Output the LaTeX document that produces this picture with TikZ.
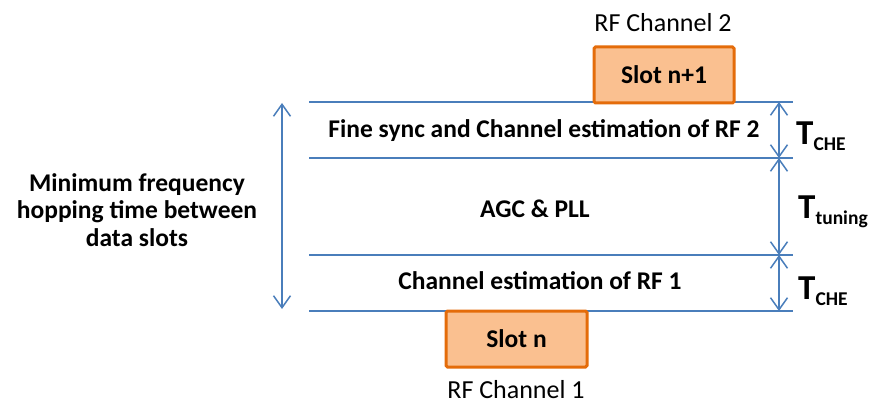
\documentclass[tikz,border=0pt]{standalone}
\usepackage{fontspec}
\setmainfont{Carlito}
\usetikzlibrary{arrows.meta}
\definecolor{lineblue}{HTML}{4A7EBB}
\definecolor{slotfill}{HTML}{FAC090}
\definecolor{slotdraw}{HTML}{E46C0A}
\tikzset{
  hline/.style={lineblue, line width=1.5pt},
  dimarrow/.style={lineblue, line width=1.5pt, {Straight Barb[length=12pt,width=17pt]}-{Straight Barb[length=12pt,width=17pt]}},
  slotbox/.style={draw=slotdraw, fill=slotfill, line width=3pt, rounded corners=1.5pt, inner sep=0pt},
  maintext/.style={font=\fontsize{25.5}{30}\selectfont\bfseries, inner sep=0pt, anchor=base},
  chantext/.style={font=\fontsize{26}{30}\selectfont, inner sep=0pt, anchor=base},
  tlabel/.style={inner sep=0pt, anchor=base west},
}
\newcommand{\Tlab}[1]{{\fontsize{35}{35}\selectfont\bfseries T}{\fontsize{19.5}{19.5}\selectfont\bfseries\raisebox{-6pt}{#1}}}
\begin{document}
\begin{tikzpicture}[x=1pt,y=-1pt]
\useasboundingbox (0,0) rectangle (875,403);
% line end coordinates
\coordinate (l1a) at (309,102); \coordinate (l1b) at (793,102);
\coordinate (l2a) at (309,158); \coordinate (l2b) at (793,158);
\coordinate (l3a) at (309,255); \coordinate (l3b) at (793,255);
\coordinate (l4a) at (309,311); \coordinate (l4b) at (793,311);
\draw[hline] (l1a) -- (l1b);
\draw[hline] (l2a) -- (l2b);
\draw[hline] (l3a) -- (l3b);
\draw[hline] (l4a) -- (l4b);
% dimension arrows
\coordinate (r1) at (779,102); \coordinate (r2) at (779,158);
\coordinate (r3) at (779,255); \coordinate (r4) at (779,311);
\draw[dimarrow] (r1) -- (r2);
\draw[dimarrow] (r2) -- (r3);
\draw[dimarrow] (r3) -- (r4);
\coordinate (la) at (282,103); \coordinate (lb) at (282,309);
\draw[dimarrow] (la) -- (lb);
% slots
\node[slotbox, minimum width=140pt, minimum height=56pt] (slot2) at (664,75) {};
\node[maintext] (slot2t) at (664,84) {Slot n+1};
\node[slotbox, minimum width=141pt, minimum height=56pt] (slot1) at (516.5,339) {};
\node[maintext] (slot1t) at (516.5,347) {Slot n};
\node[chantext] (ch2) at (663,32) {RF Channel 2};
\node[chantext] (ch1) at (516,398) {RF Channel 1};
% band texts
\node[maintext] (fine) at (544,138) {Fine sync and Channel estimation of RF 2};
\node[maintext] (agc) at (535,218) {AGC \& PLL};
\node[maintext] (che) at (540,289) {Channel estimation of RF 1};
\node[font=\fontsize{25.5}{27.5}\selectfont\bfseries, align=center, inner sep=0pt] (minf) at (137,210) {Minimum frequency\\hopping time between\\data slots};
% T labels
\node[tlabel] (t1) at (796,145) {\Tlab{CHE}};
\node[tlabel] (t2) at (798,219) {\Tlab{tuning}};
\node[tlabel] (t3) at (798,299) {\Tlab{CHE}};
\end{tikzpicture}
\end{document}
